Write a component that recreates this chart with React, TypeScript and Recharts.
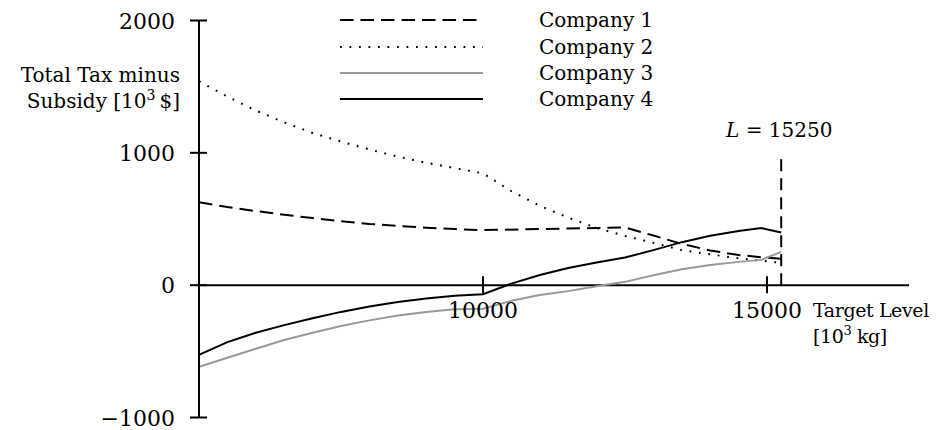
import {
  LineChart,
  Line,
  XAxis,
  YAxis,
  Legend,
  ReferenceLine,
  ReferenceDot,
} from "recharts";

const FONT = "'DejaVu Serif', serif";

// values (x in 10^3 kg, y in 10^3 $)
const company1 = [
  { x: 5000, y: 626 }, { x: 5500, y: 590 }, { x: 6000, y: 560 }, { x: 6500, y: 532 },
  { x: 7000, y: 507 }, { x: 7500, y: 484 }, { x: 8000, y: 463 }, { x: 8500, y: 447 },
  { x: 9000, y: 434 }, { x: 9500, y: 424 }, { x: 10000, y: 416 }, { x: 11000, y: 424 },
  { x: 12000, y: 432 }, { x: 12500, y: 436 }, { x: 13000, y: 375 }, { x: 13500, y: 312 },
  { x: 14000, y: 262 }, { x: 14500, y: 228 }, { x: 15000, y: 207 }, { x: 15250, y: 200 },
];

const company2 = [
  { x: 5000, y: 1540 }, { x: 5500, y: 1425 }, { x: 6000, y: 1320 }, { x: 6500, y: 1230 },
  { x: 7000, y: 1150 }, { x: 7500, y: 1085 }, { x: 8000, y: 1025 }, { x: 8500, y: 972 },
  { x: 9000, y: 925 }, { x: 9500, y: 885 }, { x: 10000, y: 845 }, { x: 10500, y: 710 },
  { x: 11000, y: 600 }, { x: 11500, y: 510 }, { x: 12000, y: 432 }, { x: 12500, y: 372 },
  { x: 13000, y: 320 }, { x: 13500, y: 265 }, { x: 14000, y: 233 }, { x: 14500, y: 203 },
  { x: 15000, y: 180 }, { x: 15250, y: 168 },
];

const company3 = [
  { x: 5000, y: -617 }, { x: 5500, y: -548 }, { x: 6000, y: -480 }, { x: 6500, y: -415 },
  { x: 7000, y: -360 }, { x: 7500, y: -308 }, { x: 8000, y: -266 }, { x: 8500, y: -230 },
  { x: 9000, y: -202 }, { x: 9500, y: -182 }, { x: 10000, y: -178 }, { x: 10500, y: -118 },
  { x: 11000, y: -75 }, { x: 11500, y: -45 }, { x: 12000, y: -8 }, { x: 12500, y: 25 },
  { x: 13000, y: 75 }, { x: 13500, y: 120 }, { x: 14000, y: 152 }, { x: 14500, y: 176 },
  { x: 14900, y: 191 }, { x: 15250, y: 252 },
];

const company4 = [
  { x: 5000, y: -526 }, { x: 5500, y: -430 }, { x: 6000, y: -360 }, { x: 6500, y: -302 },
  { x: 7000, y: -250 }, { x: 7500, y: -202 }, { x: 8000, y: -162 }, { x: 8500, y: -128 },
  { x: 9000, y: -100 }, { x: 9500, y: -80 }, { x: 10000, y: -68 }, { x: 10500, y: 12 },
  { x: 11000, y: 77 }, { x: 11500, y: 130 }, { x: 12000, y: 171 }, { x: 12500, y: 209 },
  { x: 13000, y: 265 }, { x: 13500, y: 325 }, { x: 14000, y: 373 }, { x: 14500, y: 410 },
  { x: 14900, y: 431 }, { x: 15250, y: 398 },
];

const yTicks = [-1000, 0, 1000, 2000];
const xTicks = [10000, 15000];
const limitL = 15250;

const series = [
  { name: "Company 1", data: company1, stroke: "#000", width: 2, dash: "13.5 7" },
  { name: "Company 2", data: company2, stroke: "#000", width: 2, dash: "1.8 7.7" },
  { name: "Company 3", data: company3, stroke: "#999", width: 2, dash: undefined },
  { name: "Company 4", data: company4, stroke: "#000", width: 2, dash: undefined },
];

const fmt = (v: number) => (v < 0 ? "\u2212" + Math.abs(v) : String(v));

function YTick(props: any) {
  const { x, y, payload } = props;
  return (
    <g>
      <line x1={x - 9} x2={x + 8} y1={y} y2={y} stroke="#000" strokeWidth={2} />
      <text x={x - 24} y={y + 8} textAnchor="end" fontSize={22} fontFamily={FONT} fill="#000">
        {fmt(payload.value)}
      </text>
    </g>
  );
}

function XTick(props: any) {
  const { cx, cy, label } = props;
  return (
    <g>
      <line x1={cx} x2={cx} y1={cy - 9} y2={cy + 8} stroke="#000" strokeWidth={2} />
      <text x={cx} y={cy + 33} textAnchor="middle" fontSize={22} fontFamily={FONT} fill="#000">
        {label}
      </text>
    </g>
  );
}

function XTitle(props: any) {
  const { cx, cy } = props;
  return (
    <text x={cx + 46} fontSize={19} letterSpacing={-0.4} fontFamily={FONT} fill="#000">
      <tspan x={cx + 46} y={cy + 32}>Target Level</tspan>
      <tspan x={cx + 46} y={cy + 58}>[10</tspan>
      <tspan fontSize={13} dy={-8}>3</tspan>
      <tspan dy={8}> kg]</tspan>
    </text>
  );
}

function YTitle(props: any) {
  const { cx, cy } = props;
  return (
    <text fontSize={20} fontFamily={FONT} fill="#000" textAnchor="end">
      <tspan x={cx - 19} y={cy - 5}>Total Tax minus</tspan>
      <tspan x={cx - 19} y={cy + 21}>Subsidy [10<tspan fontSize={14} dy={-8}>3</tspan><tspan dy={8}>{"\u2009$]"}</tspan></tspan>
    </text>
  );
}

function LTitle(props: any) {
  const { cx, cy } = props;
  return (
    <text x={cx - 2} y={cy - 16} textAnchor="middle" fontSize={20} fontFamily={FONT} fill="#000">
      <tspan fontStyle="italic">L</tspan> = {limitL}
    </text>
  );
}

function renderLegend() {
  return (
    <div style={{ fontFamily: FONT, fontSize: 20, color: "#000" }}>
      {series.map((s) => (
        <div key={s.name} style={{ display: "flex", alignItems: "center", height: 26.4 }}>
          <svg width={143} height={6} style={{ marginRight: 56 }}>
            <line x1={0} x2={143} y1={3} y2={3} stroke={s.stroke} strokeWidth={s.width} strokeDasharray={s.dash} />
          </svg>
          <span style={{ lineHeight: 1 }}>{s.name}</span>
        </div>
      ))}
    </div>
  );
}

export default function App() {
  return (
    <div style={{ position: "absolute", left: 0, top: 0, background: "#fff" }}>
      <LineChart width={941} height={430} margin={{ top: 20.5, right: 32, bottom: 12.5, left: 0 }}>
        <XAxis dataKey="x" type="number" domain={[5000, 17500]} hide allowDataOverflow />
        <YAxis
          type="number"
          domain={[-1000, 2000]}
          ticks={yTicks}
          interval={0}
          width={199}
          tickSize={0}
          tickMargin={0}
          tickLine={false}
          axisLine={{ stroke: "#000", strokeWidth: 2 }}
          tick={<YTick />}
        />
        <Legend
          layout="vertical"
          verticalAlign="middle"
          align="center"
          content={renderLegend}
          wrapperStyle={{ top: 7, left: 340, width: "auto" }}
        />
        <ReferenceLine y={0} stroke="#000" strokeWidth={2} />
        <ReferenceLine
          segment={[{ x: limitL, y: 0 }, { x: limitL, y: 1000 }]}
          stroke="#000"
          strokeWidth={2}
          strokeDasharray="12 7"
        />
        {xTicks.map((t) => (
          <ReferenceDot key={t} x={t} y={0} ifOverflow="visible" shape={(p: any) => <XTick {...p} label={t} />} />
        ))}
        <ReferenceDot x={15000} y={0} ifOverflow="visible" shape={(p: any) => <XTitle {...p} />} />
        <ReferenceDot x={5000} y={1500} ifOverflow="visible" shape={(p: any) => <YTitle {...p} />} />
        <ReferenceDot x={limitL} y={1000} ifOverflow="visible" shape={(p: any) => <LTitle {...p} />} />
        {series.map((s) => (
          <Line
            key={s.name}
            data={s.data}
            dataKey="y"
            name={s.name}
            type="linear"
            stroke={s.stroke}
            strokeWidth={s.width}
            strokeDasharray={s.dash}
            dot={false}
            activeDot={false}
            isAnimationActive={false}
          />
        ))}
      </LineChart>
    </div>
  );
}
